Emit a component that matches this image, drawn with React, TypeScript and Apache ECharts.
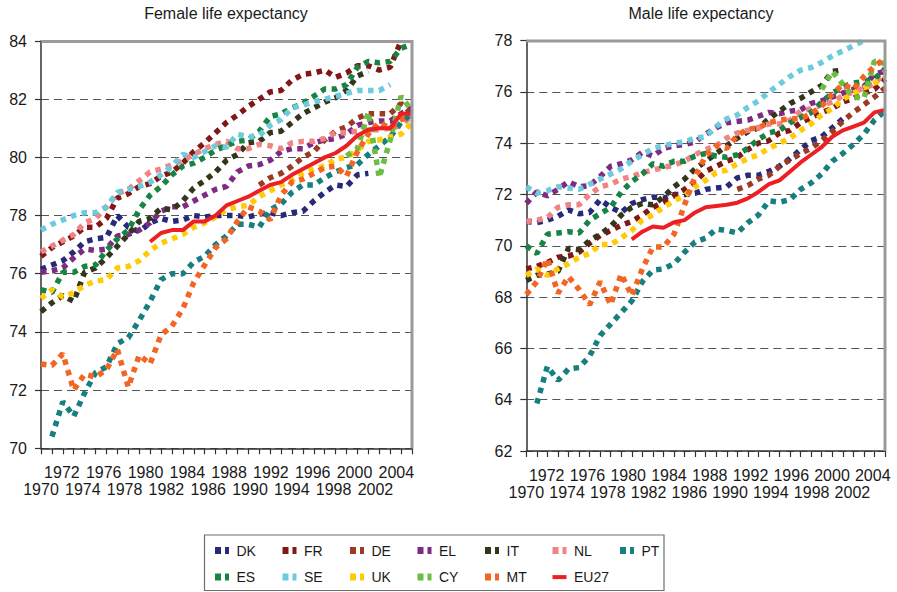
import React, { useEffect, useRef } from 'react';
import * as echarts from 'echarts';

const YEARS = ['1970', '1971', '1972', '1973', '1974', '1975', '1976', '1977', '1978', '1979',
  '1980', '1981', '1982', '1983', '1984', '1985', '1986', '1987', '1988', '1989',
  '1990', '1991', '1992', '1993', '1994', '1995', '1996', '1997', '1998', '1999',
  '2000', '2001', '2002', '2003', '2004'];

type V = number | null;
const N = null;

// ---- Female life expectancy (1970-2004) ----
const femaleDK: V[] = [76.15, 76.3, 76.45, 76.75, 77.1, 77.2, 77.25, 78.0, 77.6, 77.45, 77.75, 77.9, 77.8, 77.85, 78.0, 77.95, 78.0, 78.0, 78.0, 77.95, 78.05, 78.1, 78.0, 78.1, 78.15, 78.5, 78.8, 79.05, 79.0, 79.4, 79.45, N, N, N, N];
const femaleFR: V[] = [76.6, 76.9, 77.1, 77.3, 77.6, 77.6, 77.9, 78.6, 78.75, 79.0, 79.1, 79.35, 79.5, 79.8, 80.2, 80.5, 80.85, 81.2, 81.45, 81.75, 82.0, 82.25, 82.3, 82.65, 82.85, 82.9, 83.0, 82.75, 82.9, 83.15, 83.15, 83.0, 83.1, 84.0, N];
const femaleDE: V[] = [N, N, N, N, N, N, N, N, N, N, N, N, N, N, N, N, N, N, N, N, 79.05, 79.3, 79.45, 79.7, 80.0, 80.2, 80.6, 80.9, 81.05, 81.35, 81.5, 81.5, 81.5, 81.85, 81.5];
const femaleEL: V[] = [76.05, 76.1, 76.2, 76.55, 76.85, 76.8, 76.85, 77.3, 77.35, 77.5, 77.75, 78.15, 78.3, 78.3, 78.5, 78.7, 78.9, 79.0, 79.5, 79.7, 79.75, 79.9, 80.2, 80.3, 80.3, 80.5, 80.6, 80.65, 80.8, 81.1, 81.2, 81.25, 81.25, 81.5, 81.7];
const femaleIT: V[] = [74.7, 75.0, 75.25, 75.05, 76.05, 76.2, 76.55, 76.95, 77.35, 77.8, 77.9, 78.25, 78.2, 78.5, 78.95, 79.2, 79.5, 79.9, 80.1, 80.5, 80.55, 80.85, 80.9, 81.2, 81.5, 81.7, 81.9, 82.05, 82.3, 82.8, 82.95, N, N, N, N];
const femaleNL: V[] = [76.75, 76.95, 77.15, 77.35, 77.75, 77.9, 78.3, 78.75, 78.9, 79.2, 79.5, 79.6, 79.75, 79.9, 80.1, 80.3, 80.45, 80.55, 80.3, 80.3, 80.45, 80.4, 80.3, 80.5, 80.55, 80.55, 80.65, 80.85, 80.85, 80.9, 80.95, 80.95, 81.0, 81.1, 81.45];
const femalePT: V[] = [N, 70.4, 71.6, 71.1, 71.9, 72.6, 72.8, 73.6, 73.8, 74.4, 75.05, 75.8, 76.0, 76.0, 76.4, 76.6, 77.0, 77.3, 77.7, 77.7, 77.6, 78.2, 78.4, 78.8, 79.05, 79.05, 79.3, 79.5, 79.65, 79.75, 80.1, 80.4, 80.7, 81.2, 81.5];
const femaleES: V[] = [75.45, 75.35, 76.05, 76.05, 76.25, 76.3, 76.8, 77.2, 77.5, 78.2, 78.7, 79.0, 79.4, 79.7, 79.8, 80.0, 80.25, 80.4, 80.55, 80.6, 80.9, 81.4, 81.5, 81.7, 81.85, 82.1, 82.35, 82.35, 82.5, 83.1, 83.3, 83.25, 83.3, 83.75, 83.9];
const femaleSE: V[] = [77.5, 77.7, 77.85, 78.0, 78.1, 78.1, 78.3, 78.8, 78.9, 79.0, 79.15, 79.4, 79.7, 80.1, 80.0, 80.2, 80.4, 80.35, 80.8, 80.7, 80.75, 81.1, 81.3, 81.7, 81.8, 81.9, 82.0, 82.1, 82.2, 82.3, 82.3, 82.3, 82.5, N, N];
const femaleUK: V[] = [75.15, 75.45, 75.2, 75.35, 75.6, 75.75, 75.8, 76.2, 76.25, 76.45, 76.8, 77.05, 77.2, 77.35, 77.6, 77.75, 77.95, 78.2, 78.3, 78.35, 78.65, 78.85, 79.05, 79.2, 79.45, 79.6, 79.7, 79.95, 80.0, 80.25, 80.55, 80.6, 80.7, 80.8, 81.2];
const femaleCY: V[] = [N, N, N, N, N, N, N, N, N, N, N, N, N, N, N, N, N, N, N, N, N, N, N, N, N, N, N, N, 80.05, 80.3, 81.55, 79.3, 80.6, 82.1, 81.6];
const femaleMT: V[] = [72.9, 72.85, 73.25, 72.0, 72.55, 72.45, 72.7, 73.4, 72.1, 73.2, 72.9, 73.9, 74.2, 74.8, 75.7, 76.3, 76.9, 77.2, 77.8, 78.3, 78.15, 77.85, 78.7, 79.15, 79.25, 79.45, 79.65, 79.7, 79.35, 80.2, 80.8, 81.2, 81.0, 81.3, 81.4];
const femaleEU27: V[] = [N, N, N, N, N, N, N, N, N, N, 77.1, 77.4, 77.5, 77.5, 77.8, 77.8, 78.0, 78.35, 78.5, 78.65, 78.85, 79.05, 79.15, 79.4, 79.6, 79.8, 80.0, 80.15, 80.4, 80.75, 80.95, 81.0, 81.0, 81.5, 81.5];

// ---- Male life expectancy (1970-2004) ----
const maleDK: V[] = [70.95, 70.9, 71.0, 71.15, 71.4, 71.25, 71.3, 71.8, 71.5, 71.3, 71.65, 71.8, 71.9, 71.85, 72.0, 72.0, 72.05, 72.2, 72.25, 72.3, 72.65, 72.75, 72.75, 72.9, 73.1, 73.4, 73.75, 74.1, 74.25, 74.6, 74.95, N, N, N, N];
const maleFR: V[] = [69.1, 69.2, 69.35, 69.55, 69.6, 69.75, 70.1, 70.4, 70.6, 70.8, 70.95, 71.2, 71.5, 71.7, 71.95, 72.2, 72.5, 72.9, 73.1, 73.3, 73.45, 73.75, 74.0, 74.1, 74.4, 74.5, 74.8, 75.0, 75.2, 75.35, 75.6, 75.75, 75.95, 76.1, 76.5];
const maleDE: V[] = [N, N, N, N, N, N, N, N, N, N, N, N, N, N, N, N, N, N, N, N, 72.2, 72.35, 72.6, 72.75, 73.1, 73.35, 73.6, 73.8, 74.1, 74.45, 74.85, 75.2, 75.5, 75.8, 76.15];
const maleEL: V[] = [71.65, 72.1, 71.95, 72.2, 72.5, 72.3, 72.35, 72.7, 73.1, 73.2, 73.35, 73.65, 73.5, 73.8, 73.9, 73.95, 74.05, 74.35, 74.6, 74.8, 74.85, 74.9, 75.05, 75.2, 75.15, 75.25, 75.3, 75.55, 75.65, 75.8, 75.95, 76.1, 76.2, 76.7, 76.8];
const maleIT: V[] = [68.65, 68.85, 68.9, 69.0, 69.9, 69.85, 70.2, 70.45, 70.75, 71.2, 71.5, 71.65, 71.6, 71.9, 72.3, 72.6, 73.0, 73.3, 73.6, 73.9, 74.2, 74.45, 74.6, 74.95, 75.25, 75.55, 75.75, 76.0, 76.25, 76.8, 76.85, N, N, N, N];
const maleNL: V[] = [70.95, 71.0, 71.1, 71.5, 71.6, 71.6, 72.0, 72.3, 72.4, 72.6, 72.7, 72.85, 72.95, 73.05, 73.15, 73.3, 73.55, 73.75, 73.9, 74.2, 74.4, 74.5, 74.6, 74.75, 74.75, 74.9, 75.25, 75.35, 75.5, 75.6, 75.85, 76.0, 76.15, 76.3, 76.8];
const malePT: V[] = [N, 63.85, 65.3, 64.75, 65.2, 65.25, 65.7, 66.5, 66.95, 67.4, 67.85, 68.6, 69.05, 69.1, 69.3, 69.75, 70.15, 70.3, 70.65, 70.6, 70.5, 70.9, 71.2, 71.75, 71.7, 71.8, 72.2, 72.45, 72.8, 73.3, 73.6, 73.95, 74.35, 74.9, 75.25];
const maleES: V[] = [70.0, 69.7, 70.45, 70.5, 70.55, 70.5, 71.0, 71.25, 71.5, 72.1, 72.5, 72.8, 73.2, 73.1, 73.3, 73.3, 73.5, 73.6, 73.5, 73.45, 73.55, 73.8, 74.15, 74.4, 74.5, 74.8, 75.0, 75.2, 75.6, 75.95, 76.2, 76.35, 76.4, 76.5, 76.9];
const maleSE: V[] = [72.3, 72.05, 72.15, 72.3, 72.25, 72.2, 72.4, 72.6, 72.8, 73.0, 73.3, 73.55, 73.8, 73.9, 74.0, 74.05, 74.2, 74.25, 74.65, 74.95, 75.1, 75.4, 75.65, 76.0, 76.3, 76.6, 76.85, 76.95, 77.15, 77.4, 77.6, 77.8, 78.0, N, N];
const maleUK: V[] = [68.85, 69.1, 68.85, 69.1, 69.3, 69.55, 69.7, 70.05, 70.05, 70.3, 70.6, 71.0, 71.2, 71.5, 71.75, 71.95, 72.3, 72.55, 72.85, 72.95, 73.2, 73.4, 73.55, 73.8, 74.0, 74.2, 74.5, 74.75, 75.1, 75.35, 75.7, 75.95, 76.15, 76.35, 76.55];
const maleCY: V[] = [N, N, N, N, N, N, N, N, N, N, N, N, N, N, N, N, N, N, N, N, N, N, N, N, N, N, N, N, 76.1, 76.8, 76.3, 75.8, 75.75, 77.2, 77.1];
const maleMT: V[] = [68.1, 68.6, 69.5, 68.15, 68.8, 68.3, 67.7, 68.6, 67.7, 68.9, 68.05, 69.1, 69.95, 69.95, 70.45, 71.6, 72.7, 73.5, 73.9, 73.8, 74.3, 74.55, 74.6, 74.8, 74.9, 74.95, 74.95, 75.15, 75.45, 75.9, 76.3, 76.1, 76.6, 77.0, 77.3];
const maleEU27: V[] = [N, N, N, N, N, N, N, N, N, N, 70.25, 70.55, 70.75, 70.7, 70.92, 71.0, 71.3, 71.5, 71.55, 71.6, 71.68, 71.85, 72.1, 72.4, 72.55, 72.9, 73.25, 73.55, 73.85, 74.25, 74.5, 74.65, 74.8, 75.2, 75.3];

const COUNTRIES = ['DK', 'FR', 'DE', 'EL', 'IT', 'NL', 'PT', 'ES', 'SE', 'UK', 'CY', 'MT', 'EU27'];
const COLORS: Record<string, string> = {
  DK: '#262a78', FR: '#801818', DE: '#9b3b23', EL: '#7f2b83', IT: '#33361a', NL: '#f08484',
  PT: '#177f7f', ES: '#178443', SE: '#6ccbdc', UK: '#fecb06', CY: '#6cbc45', MT: '#f26522', EU27: '#ec2024',
};
const FEMALE: Record<string, V[]> = {
  DK: femaleDK, FR: femaleFR, DE: femaleDE, EL: femaleEL, IT: femaleIT, NL: femaleNL, PT: femalePT,
  ES: femaleES, SE: femaleSE, UK: femaleUK, CY: femaleCY, MT: femaleMT, EU27: femaleEU27,
};
const MALE: Record<string, V[]> = {
  DK: maleDK, FR: maleFR, DE: maleDE, EL: maleEL, IT: maleIT, NL: maleNL, PT: malePT,
  ES: maleES, SE: maleSE, UK: maleUK, CY: maleCY, MT: maleMT, EU27: maleEU27,
};

const FONT = '"Liberation Sans", Arial, Helvetica, sans-serif';
const TEXT = '#1a1a1a';
const AXIS = '#333333';

const G1 = { left: 41, top: 41, width: 371, height: 407.3 };
const G2 = { left: 526.3, top: 40.6, width: 358.7, height: 410.4 };

const DOTS_ICON = 'path://M0,0h6v7h-6z M10,0h4v7h-4z M16.5,0';
const LINE_ICON = 'path://M0,0 M16.5,7 M0,1.5h14v4h-14z';

// row 0 = upper row (1972, 1976, ...), row 1 = lower row (1970, 1974, ...)
function yearLabel(v: number, row: number): string {
  if (Math.abs(v - Math.round(v)) > 1e-6) return '';
  const i = Math.round(v);
  if (i < 0 || i >= YEARS.length || i % 2 !== 0) return '';
  const lower = (i / 2) % 2 === 0;
  if (row === 1) return lower ? YEARS[i] : '';
  return lower ? '' : YEARS[i];
}

function catAxis(gridIndex: number) {
  return {
    type: 'category', gridIndex, data: YEARS, boundaryGap: false, position: 'bottom',
    axisLine: { show: true, onZero: false, lineStyle: { color: AXIS, width: 1.5 } },
    axisTick: { show: true, interval: 0, length: 6, lineStyle: { color: AXIS, width: 1.2 } },
    axisLabel: { show: false }, splitLine: { show: false },
  };
}
function labelAxis(gridIndex: number, max: number, row: number) {
  return {
    type: 'value', gridIndex, position: 'bottom', min: 0, max, interval: 2,
    axisLine: { show: false, onZero: false }, axisTick: { show: false }, splitLine: { show: false },
    axisLabel: {
      show: true, margin: row === 0 ? 16 : 33, fontSize: 16, lineHeight: 17, color: TEXT, fontFamily: FONT,
      formatter: (v: number) => yearLabel(v, row),
    },
  };
}
function valAxis(gridIndex: number, min: number, max: number) {
  return {
    type: 'value', gridIndex, min, max, interval: 2,
    axisLine: { show: true, onZero: false, lineStyle: { color: AXIS, width: 1.5 } },
    axisTick: { show: true, length: 6, lineStyle: { color: AXIS, width: 1.2 } },
    axisLabel: { fontSize: 16, color: TEXT, fontFamily: FONT, margin: 14 },
    splitLine: { show: true, lineStyle: { color: '#555555', width: 1.1, type: [8, 5] } },
  };
}
function makeSeries(data: Record<string, V[]>, xIdx: number, yIdx: number) {
  return COUNTRIES.map((c) => {
    const eu = c === 'EU27';
    return {
      type: 'line', name: c, xAxisIndex: xIdx, yAxisIndex: yIdx, data: data[c],
      symbol: 'none', showSymbol: false, connectNulls: false, silent: true,
      color: COLORS[c], itemStyle: { color: COLORS[c] },
      lineStyle: eu
        ? { color: COLORS[c], width: 4, type: 'solid', cap: 'butt' }
        : { color: COLORS[c], width: 5.5, type: [5.5, 5.5], cap: 'butt' },
      z: eu ? 4 : 3,
      emphasis: { disabled: true },
    };
  });
}

export default function App() {
  const ref = useRef<HTMLDivElement>(null);
  useEffect(() => {
    if (!ref.current) return;
    const chart = echarts.init(ref.current, undefined, { renderer: 'svg' });
    const border = (g: typeof G1) => ({
      type: 'polyline', z: 10, silent: true,
      shape: { points: [[g.left, g.top + 0.5], [g.left + g.width, g.top + 0.5], [g.left + g.width, g.top + g.height]] },
      style: { stroke: '#9a9a9a', lineWidth: 3, fill: 'none' },
    });
    chart.setOption({
      animation: false,
      backgroundColor: '#ffffff',
      textStyle: { fontFamily: FONT },
      grid: [
        { left: G1.left, top: G1.top, width: G1.width, height: G1.height, containLabel: false },
        { left: G2.left, top: G2.top, width: G2.width, height: G2.height, containLabel: false },
      ],
      xAxis: [
        catAxis(0), labelAxis(0, 35.5, 0), labelAxis(0, 35.5, 1),
        catAxis(1), labelAxis(1, 35.2, 0), labelAxis(1, 35.2, 1),
      ],
      yAxis: [valAxis(0, 70, 84), valAxis(1, 62, 78)],
      legend: {
        left: 215, top: 542.2, padding: 0, orient: 'horizontal', width: 470,
        itemWidth: 16.5, itemHeight: 7, itemGap: 10, selectedMode: false,
        textStyle: { fontFamily: FONT, fontSize: 14, color: TEXT, width: 36, lineHeight: 16.6 },
        data: COUNTRIES.map((c) => ({ name: c, icon: c === 'EU27' ? LINE_ICON : DOTS_ICON })),
      },
      graphic: [
        {
          type: 'text', x: 226, y: 13, silent: true,
          style: { text: 'Female life expectancy', fontSize: 16, fontFamily: FONT, fill: TEXT, align: 'center', verticalAlign: 'middle' },
        },
        {
          type: 'text', x: 701, y: 13, silent: true,
          style: { text: 'Male life expectancy', fontSize: 16, fontFamily: FONT, fill: TEXT, align: 'center', verticalAlign: 'middle' },
        },
        border(G1),
        border(G2),
        {
          type: 'rect', silent: true, z: 1,
          shape: { x: 204.5, y: 535, width: 459.5, height: 55.5 },
          style: { fill: 'none', stroke: '#6e6e6e', lineWidth: 1.2 },
        },
      ],
      series: [...makeSeries(FEMALE, 0, 0), ...makeSeries(MALE, 3, 1)],
    });
    return () => chart.dispose();
  }, []);
  return <div ref={ref} style={{ position: 'fixed', left: 0, top: 0, width: 897, height: 592, background: '#fff' }} />;
}
